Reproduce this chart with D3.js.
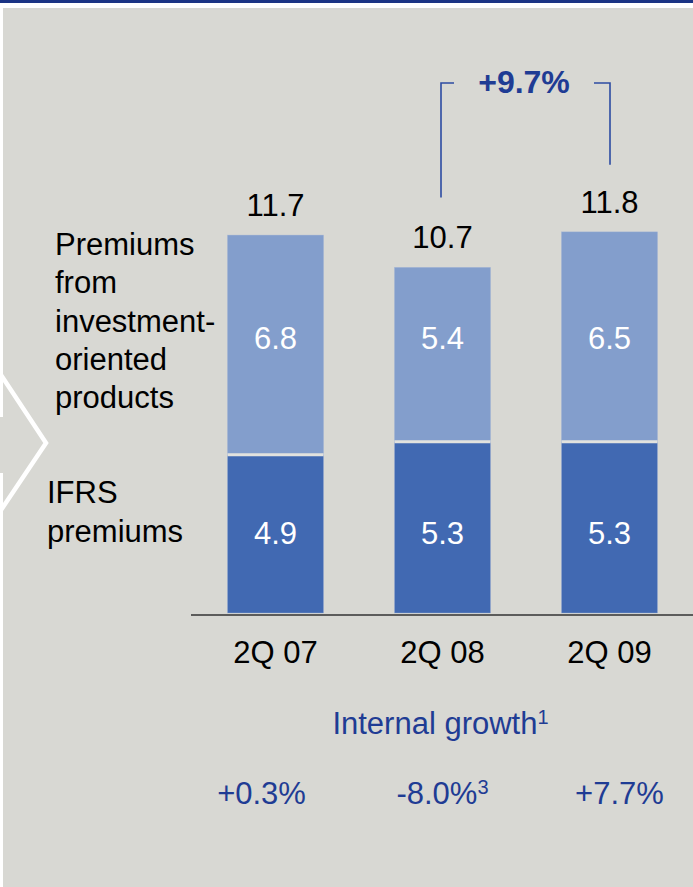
<!DOCTYPE html>
<html>
<head>
<meta charset="utf-8">
<script src="https://cdn.jsdelivr.net/npm/d3@7"></script>
<style>
  html, body { margin: 0; padding: 0; background: #ffffff; }
  svg { display: block; }
  text { font-family: "Liberation Sans", Arial, sans-serif; }
</style>
</head>
<body>
<div id="chart"></div>
<script>
// Quarterly premiums (EUR bn), split into IFRS premiums and investment-oriented products
const periods = ["2Q 07", "2Q 08", "2Q 09"];
const ifrsPremiums = [4.9, 5.3, 5.3];
const investmentPremiums = [6.8, 5.4, 6.5];
const totals = [11.7, 10.7, 11.8];
const internalGrowth = ["+0.3%", "-8.0%", "+7.7%"];
const growthNotes = ["", "3", ""];
const bracketLabel = "+9.7%";
const seriesNames = [["IFRS", "premiums"], ["Premiums", "from", "investment-", "oriented", "products"]];

const W = 693, H = 887;
const colors = {
  bg: "#d8d8d3",
  band: "#1b3484",
  light: "#839ecc",
  dark: "#4169b2",
  blueText: "#1f3c94",
  bracket: "#2c4ba2",
  axis: "#333333"
};

const svg = d3.select("#chart").append("svg")
  .attr("width", W).attr("height", H);

// Slide frame: background, top rule and left margin
svg.append("rect").attr("width", W).attr("height", H).attr("fill", "#ffffff");
svg.append("rect").attr("x", 3).attr("y", 8).attr("width", W - 3).attr("height", H - 8).attr("fill", colors.bg);
svg.append("rect").attr("x", 0).attr("y", 0).attr("width", W).attr("height", 3).attr("fill", colors.band);
svg.append("rect").attr("x", 0).attr("y", 417).attr("width", 3).attr("height", 56).attr("fill", colors.bg);

// Chevron carried over from the previous panel
svg.append("polyline")
  .attr("points", "1,375 46,443 1,510")
  .attr("fill", "none").attr("stroke", "#ffffff").attr("stroke-width", 4.5);

// Scales
const x = d3.scaleBand().domain(periods).range([227.5, 657.5]).paddingInner(0.425).paddingOuter(0);
const y = d3.scaleLinear().domain([0, 12]).range([613, 613 - 12 * 32.3]);

const rows = periods.map((p, i) => ({
  period: p, ifrs: ifrsPremiums[i], inv: investmentPremiums[i], total: totals[i],
  growth: internalGrowth[i], note: growthNotes[i]
}));

const stack = d3.stack().keys(["ifrs", "inv"])(rows);
const fills = { ifrs: colors.dark, inv: colors.light };

const bars = svg.append("g");
stack.forEach(layer => {
  bars.selectAll(null).data(layer).join("rect")
    .attr("x", d => x(d.data.period))
    .attr("width", x.bandwidth())
    .attr("y", d => y(d[1]))
    .attr("height", d => y(d[0]) - y(d[1]))
    .attr("fill", fills[layer.key])
    .attr("stroke", "#9fb2d6").attr("stroke-width", 0.6).attr("stroke-opacity", 0.6);
});
// Thin separators between the two segments
bars.selectAll(null).data(rows).join("line")
  .attr("x1", d => x(d.period)).attr("x2", d => x(d.period) + x.bandwidth())
  .attr("y1", d => y(d.ifrs)).attr("y2", d => y(d.ifrs))
  .attr("stroke", "#e2e2de").attr("stroke-width", 3);

// Baseline
svg.append("line").attr("x1", 191).attr("x2", W).attr("y1", 615).attr("y2", 615)
  .attr("stroke", colors.axis).attr("stroke-width", 1.6);

// Segment values (white, aligned in rows)
svg.append("g").selectAll("text").data(rows).join("text")
  .attr("x", d => x(d.period) + x.bandwidth() / 2).attr("y", 349)
  .attr("text-anchor", "middle").attr("font-size", 31).attr("fill", "#ffffff")
  .text(d => d.inv.toFixed(1));
svg.append("g").selectAll("text").data(rows).join("text")
  .attr("x", d => x(d.period) + x.bandwidth() / 2).attr("y", 544)
  .attr("text-anchor", "middle").attr("font-size", 31).attr("fill", "#ffffff")
  .text(d => d.ifrs.toFixed(1));

// Totals above bars
svg.append("g").selectAll("text").data(rows).join("text")
  .attr("x", d => x(d.period) + x.bandwidth() / 2).attr("y", d => y(d.total) - 19)
  .attr("text-anchor", "middle").attr("font-size", 31).attr("fill", "#000000")
  .text(d => d.total.toFixed(1));

// Category axis
const xAxis = svg.append("g").attr("transform", "translate(0,615)")
  .call(d3.axisBottom(x).tickSize(0).tickPadding(0));
xAxis.select(".domain").remove();
xAxis.selectAll("text")
  .attr("y", 48).attr("dy", 0)
  .attr("font-size", 31).attr("fill", "#000000")
  .style("font-family", "'Liberation Sans', Arial, sans-serif");

// Series labels on the left
const lab = svg.append("g").attr("font-size", 31).attr("fill", "#000000");
lab.append("text").attr("x", 55).attr("y", 255)
  .selectAll("tspan").data(seriesNames[1]).join("tspan")
  .attr("x", 55).attr("dy", (d, i) => i === 0 ? 0 : 38.3).text(d => d);
lab.append("text").attr("x", 47).attr("y", 503)
  .selectAll("tspan").data(seriesNames[0]).join("tspan")
  .attr("x", 47).attr("dy", (d, i) => i === 0 ? 0 : 38.5).text(d => d);

// Internal growth row
const ig = svg.append("text").attr("x", x("2Q 08") + x.bandwidth() / 2 - 2).attr("y", 734)
  .attr("text-anchor", "middle").attr("font-size", 31).attr("fill", colors.blueText);
ig.append("tspan").text("Internal growth");
ig.append("tspan").attr("font-size", 20).attr("dy", -10).text("1");

const growthShift = [-14, 0, 10];
svg.append("g").selectAll("text").data(rows).join("text")
  .attr("x", (d, i) => x(d.period) + x.bandwidth() / 2 + growthShift[i]).attr("y", 804)
  .attr("text-anchor", "middle").attr("font-size", 31).attr("fill", colors.blueText)
  .each(function(d) {
    const t = d3.select(this);
    t.append("tspan").text(d.growth);
    if (d.note) t.append("tspan").attr("font-size", 20).attr("dy", -10).text(d.note);
  });

// Year-on-year bracket between 2Q 08 and 2Q 09
const bxL = 441, bxR = 610, by = 83;
const br = svg.append("g").attr("fill", "none").attr("stroke", colors.bracket).attr("stroke-width", 1.6);
br.append("polyline").attr("points", `${bxL},${y(totals[1]) - 70} ${bxL},${by} ${bxL + 13},${by}`);
br.append("polyline").attr("points", `${bxR - 16},${by} ${bxR},${by} ${bxR},${y(totals[2]) - 67}`);
svg.append("text").attr("x", 524).attr("y", 93)
  .attr("text-anchor", "middle").attr("font-size", 32).attr("font-weight", "bold")
  .attr("fill", colors.blueText).text(bracketLabel);
</script>
</body>
</html>
